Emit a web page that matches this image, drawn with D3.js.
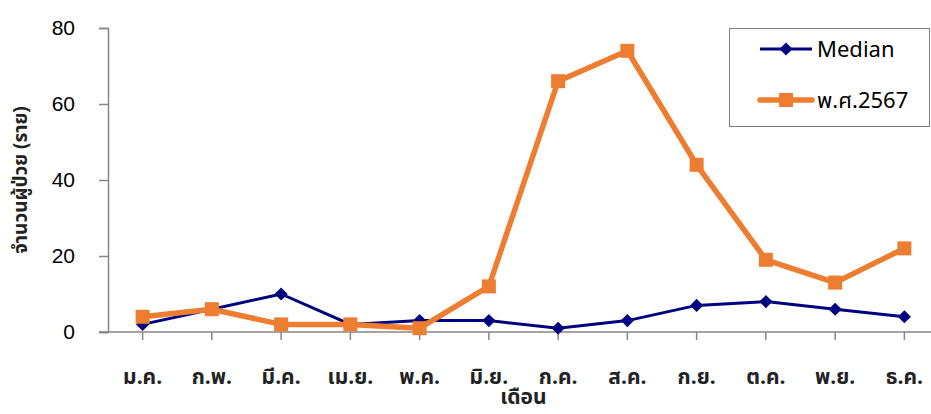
<!DOCTYPE html>
<html>
<head>
<meta charset="utf-8">
<script src="https://cdn.jsdelivr.net/npm/d3@7"></script>
<style>
  body { margin: 0; background: #fff; }
  svg { display: block; }
</style>
</head>
<body>
<div id="chart"></div>
<script>
// Monthly data
var months = ["ม.ค.", "ก.พ.", "มี.ค.", "เม.ย.", "พ.ค.", "มิ.ย.", "ก.ค.", "ส.ค.", "ก.ย.", "ต.ค.", "พ.ย.", "ธ.ค."];
var medianVals = [2, 6, 10, 2, 3, 3, 1, 3, 7, 8, 6, 4];
var year2567 = [4, 6, 2, 2, 1, 12, 66, 74, 44, 19, 13, 22];
var yTicks = [0, 20, 40, 60, 80];
var seriesNames = ["Median", "พ.ศ.2567"];

var width = 931;
var height = 414;
var margin = ({ top: 28, right: -8, bottom: 82, left: 108 });

var thaiFont = "'Noto Sans Thai', 'Noto Sans Thai UI', Tahoma, 'Noto Sans', sans-serif";
var numFont = "'Liberation Sans', Arial, sans-serif";

var medianColor = "#000080";
var orangeColor = "#ED7D31";
var axisColor = "#868686";

var svg = d3.select("#chart")
  .append("svg")
  .attr("width", width)
  .attr("height", height);

var x = d3.scaleBand()
  .domain(months)
  .range([margin.left, width - margin.right]);

var y = d3.scaleLinear()
  .domain([0, 80])
  .range([height - margin.bottom, margin.top]);

var cx = d => x(d) + x.bandwidth() / 2;

// Y axis
var yAxis = svg.append("g")
  .attr("transform", `translate(${margin.left},0)`)
  .call(d3.axisLeft(y).tickValues(yTicks).tickSize(9).tickPadding(24));
yAxis.select(".domain").attr("stroke", axisColor).attr("stroke-width", 1.5);
yAxis.selectAll(".tick line").attr("stroke", axisColor).attr("stroke-width", 1.5);
yAxis.selectAll(".tick text")
  .attr("font-family", numFont)
  .attr("font-size", 21)
  .attr("fill", "#000");

// X axis
var xAxisG = svg.append("g")
  .attr("transform", `translate(0,${y(0)})`);
xAxisG.append("line")
  .attr("x1", margin.left - 9).attr("x2", width)
  .attr("y1", 0).attr("y2", 0)
  .attr("stroke", axisColor).attr("stroke-width", 1.5);
xAxisG.selectAll("line.tick")
  .data(months)
  .enter().append("line")
  .attr("class", "tick")
  .attr("x1", cx).attr("x2", cx)
  .attr("y1", 0).attr("y2", 8)
  .attr("stroke", axisColor).attr("stroke-width", 1.5);
xAxisG.selectAll("text")
  .data(months)
  .enter().append("text")
  .attr("x", cx)
  .attr("y", 52)
  .attr("text-anchor", "middle")
  .attr("font-family", thaiFont)
  .attr("font-size", 21)
  .attr("font-weight", "bold")
  .attr("fill", "#222")
  .text(d => d);

// Axis titles
svg.append("text")
  .attr("x", (margin.left + width - margin.right) / 2)
  .attr("y", 404)
  .attr("text-anchor", "middle")
  .attr("font-family", thaiFont)
  .attr("font-size", 21)
  .attr("font-weight", "bold")
  .attr("fill", "#222")
  .text("เดือน");

svg.append("text")
  .attr("transform", "translate(27,180) rotate(-90)")
  .attr("text-anchor", "middle")
  .attr("font-family", thaiFont)
  .attr("font-size", 19)
  .attr("font-weight", "bold")
  .attr("fill", "#222")
  .text("จำนวนผู้ป่วย (ราย)");

// Lines
var line = d3.line()
  .x((d, i) => cx(months[i]))
  .y(d => y(d));

svg.append("path")
  .datum(medianVals)
  .attr("d", line)
  .attr("fill", "none")
  .attr("stroke", medianColor)
  .attr("stroke-width", 3);

svg.selectAll("path.diamond")
  .data(medianVals)
  .enter().append("path")
  .attr("class", "diamond")
  .attr("d", d3.symbol().type(d3.symbolDiamond2).size(110))
  .attr("transform", (d, i) => `translate(${cx(months[i])},${y(d)})`)
  .attr("fill", medianColor);

svg.append("path")
  .datum(year2567)
  .attr("d", line)
  .attr("fill", "none")
  .attr("stroke", orangeColor)
  .attr("stroke-width", 5.5)
  .attr("stroke-linejoin", "round");

svg.selectAll("rect.sq")
  .data(year2567)
  .enter().append("rect")
  .attr("class", "sq")
  .attr("x", (d, i) => cx(months[i]) - 7)
  .attr("y", d => y(d) - 7)
  .attr("width", 14)
  .attr("height", 14)
  .attr("fill", orangeColor);

// Legend
var legend = svg.append("g");
legend.append("rect")
  .attr("x", 729.5).attr("y", 28.5)
  .attr("width", 200).attr("height", 98)
  .attr("fill", "#fff")
  .attr("stroke", "#808080")
  .attr("stroke-width", 1);

var legendY = [49, 100];
legend.append("line")
  .attr("x1", 760).attr("x2", 812)
  .attr("y1", legendY[0]).attr("y2", legendY[0])
  .attr("stroke", medianColor).attr("stroke-width", 3);
legend.append("path")
  .attr("d", d3.symbol().type(d3.symbolDiamond2).size(110))
  .attr("transform", `translate(786,${legendY[0]})`)
  .attr("fill", medianColor);
legend.append("line")
  .attr("x1", 760).attr("x2", 812)
  .attr("y1", legendY[1]).attr("y2", legendY[1])
  .attr("stroke", orangeColor).attr("stroke-width", 5.5)
  .attr("stroke-linecap", "round");
legend.append("rect")
  .attr("x", 779).attr("y", legendY[1] - 7)
  .attr("width", 14).attr("height", 14)
  .attr("fill", orangeColor);

legend.selectAll("text")
  .data(seriesNames)
  .enter().append("text")
  .attr("x", 817)
  .attr("y", (d, i) => legendY[i])
  .attr("dy", "0.35em")
  .attr("font-family", thaiFont)
  .attr("font-size", 22)
  .attr("fill", "#000")
  .text(d => d);
</script>
</body>
</html>
